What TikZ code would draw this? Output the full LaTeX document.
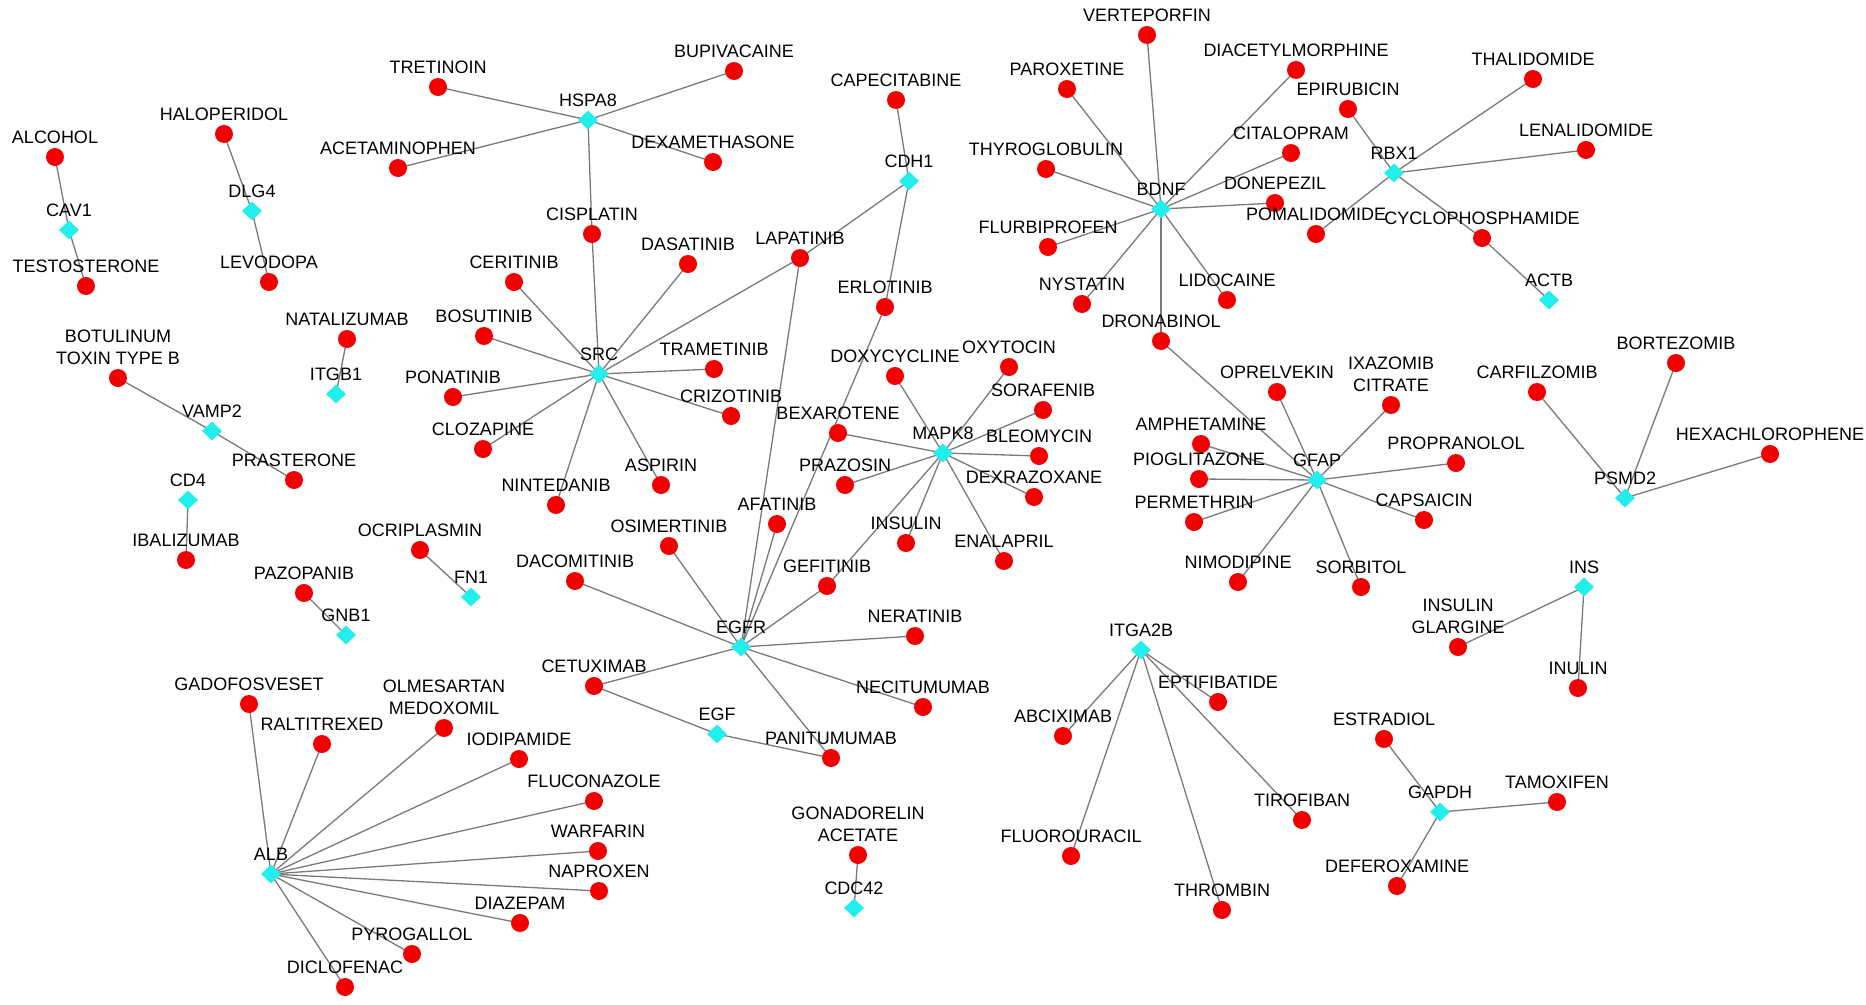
\documentclass[tikz,border=0pt]{standalone}
\usepackage{fontspec}
\setmainfont{Liberation Sans}
\usetikzlibrary{shapes.geometric,backgrounds}
\definecolor{dotred}{HTML}{F20000}
\definecolor{gcyan}{HTML}{22EEEE}
\definecolor{edgegray}{HTML}{7A7A7A}
\tikzset{
 drugdot/.style={circle,fill=dotred,draw=none,minimum size=18pt,inner sep=0pt},
 genedia/.style={diamond,fill=gcyan,draw=none,minimum width=20pt,minimum height=19pt,inner sep=0pt},
 lab/.style={anchor=south,inner sep=0pt,align=center,font=\fontsize{18}{22}\selectfont},
 edge/.style={draw=edgegray,line width=1.3pt}
}
\newcommand\Drug[4]{\node[drugdot] (#1) at (#2,#3) {}; \path (#1.center) ++(0,-13.5) node[lab] (#1-l) {#4};}
\newcommand\Gene[4]{\node[genedia] (#1) at (#2,#3) {}; \path (#1.center) ++(0,-13.5) node[lab] (#1-l) {#4};}
\begin{document}
\begin{tikzpicture}[x=1pt,y=-1pt]
\useasboundingbox (0,0) rectangle (1866,1004);
% genes
\Gene{CAV1}{69}{230}{CAV1}
\Gene{DLG4}{252}{211}{DLG4}
\Gene{HSPA8}{588}{120}{HSPA8}
\Gene{SRC}{599}{374}{SRC}
\Gene{ITGB1}{336}{394}{ITGB1}
\Gene{VAMP2}{212}{431}{VAMP2}
\Gene{CD4}{188}{500}{CD4}
\Gene{FN1}{471}{597}{FN1}
\Gene{GNB1}{346}{635}{GNB1}
\Gene{ALB}{271}{874}{ALB}
\Gene{CDH1}{909}{181}{CDH1}
\Gene{EGFR}{741}{647}{EGFR}
\Gene{EGF}{717}{734}{EGF}
\Gene{MAPK8}{943}{453}{MAPK8}
\Gene{CDC42}{854}{908}{CDC42}
\Gene{BDNF}{1161}{209}{BDNF}
\Gene{RBX1}{1394}{173}{RBX1}
\Gene{ACTB}{1549}{300}{ACTB}
\Gene{GFAP}{1317}{480}{GFAP}
\Gene{PSMD2}{1625}{498}{PSMD2}
\Gene{INS}{1584}{587}{INS}
\Gene{ITGA2B}{1141}{650}{ITGA2B}
\Gene{GAPDH}{1440}{812}{GAPDH}
% drugs
\Drug{alcohol}{55}{157}{ALCOHOL}
\Drug{testosterone}{86}{286}{TESTOSTERONE}
\Drug{haloperidol}{224}{134}{HALOPERIDOL}
\Drug{levodopa}{269}{282}{LEVODOPA}
\Drug{tretinoin}{438}{87}{TRETINOIN}
\Drug{acetaminophen}{398}{168}{ACETAMINOPHEN}
\Drug{bupivacaine}{734}{71}{BUPIVACAINE}
\Drug{dexamethasone}{713}{162}{DEXAMETHASONE}
\Drug{cisplatin}{592}{234}{CISPLATIN}
\Drug{ceritinib}{514}{282}{CERITINIB}
\Drug{bosutinib}{484}{336}{BOSUTINIB}
\Drug{ponatinib}{453}{397}{PONATINIB}
\Drug{clozapine}{483}{449}{CLOZAPINE}
\Drug{nintedanib}{556}{505}{NINTEDANIB}
\Drug{aspirin}{661}{485}{ASPIRIN}
\Drug{crizotinib}{731}{416}{CRIZOTINIB}
\Drug{trametinib}{714}{369}{TRAMETINIB}
\Drug{dasatinib}{688}{264}{DASATINIB}
\Drug{lapatinib}{800}{258}{LAPATINIB}
\Drug{natalizumab}{347}{339}{NATALIZUMAB}
\Drug{botulinum}{118}{378}{BOTULINUM\\TOXIN TYPE B}
\Drug{prasterone}{294}{480}{PRASTERONE}
\Drug{ibalizumab}{186}{560}{IBALIZUMAB}
\Drug{ocriplasmin}{420}{550}{OCRIPLASMIN}
\Drug{pazopanib}{304}{593}{PAZOPANIB}
\Drug{capecitabine}{896}{100}{CAPECITABINE}
\Drug{erlotinib}{885}{307}{ERLOTINIB}
\Drug{bexarotene}{838}{433}{BEXAROTENE}
\Drug{doxycycline}{895}{376}{DOXYCYCLINE}
\Drug{oxytocin}{1009}{367}{OXYTOCIN}
\Drug{sorafenib}{1043}{410}{SORAFENIB}
\Drug{bleomycin}{1039}{456}{BLEOMYCIN}
\Drug{prazosin}{845}{485}{PRAZOSIN}
\Drug{dexrazoxane}{1034}{497}{DEXRAZOXANE}
\Drug{insulin}{906}{543}{INSULIN}
\Drug{enalapril}{1004}{561}{ENALAPRIL}
\Drug{afatinib}{777}{524}{AFATINIB}
\Drug{osimertinib}{669}{546}{OSIMERTINIB}
\Drug{gefitinib}{827}{586}{GEFITINIB}
\Drug{dacomitinib}{575}{581}{DACOMITINIB}
\Drug{neratinib}{915}{636}{NERATINIB}
\Drug{cetuximab}{594}{686}{CETUXIMAB}
\Drug{necitumumab}{923}{707}{NECITUMUMAB}
\Drug{panitumumab}{831}{758}{PANITUMUMAB}
\Drug{gonadorelin}{858}{855}{GONADORELIN\\ACETATE}
\Drug{verteporfin}{1147}{35}{VERTEPORFIN}
\Drug{paroxetine}{1067}{89}{PAROXETINE}
\Drug{diacetylmorphine}{1296}{70}{DIACETYLMORPHINE}
\Drug{citalopram}{1291}{153}{CITALOPRAM}
\Drug{donepezil}{1275}{203}{DONEPEZIL}
\Drug{thyroglobulin}{1046}{169}{THYROGLOBULIN}
\Drug{flurbiprofen}{1048}{247}{FLURBIPROFEN}
\Drug{nystatin}{1082}{304}{NYSTATIN}
\Drug{lidocaine}{1227}{300}{LIDOCAINE}
\Drug{dronabinol}{1161}{341}{DRONABINOL}
\Drug{epirubicin}{1348}{109}{EPIRUBICIN}
\Drug{thalidomide}{1533}{79}{THALIDOMIDE}
\Drug{lenalidomide}{1586}{150}{LENALIDOMIDE}
\Drug{pomalidomide}{1316}{234}{POMALIDOMIDE}
\Drug{cyclophosphamide}{1482}{238}{CYCLOPHOSPHAMIDE}
\Drug{oprelvekin}{1277}{392}{OPRELVEKIN}
\Drug{ixazomib}{1391}{405}{IXAZOMIB\\CITRATE}
\Drug{amphetamine}{1201}{444}{AMPHETAMINE}
\Drug{pioglitazone}{1199}{479}{PIOGLITAZONE}
\Drug{permethrin}{1194}{522}{PERMETHRIN}
\Drug{propranolol}{1456}{463}{PROPRANOLOL}
\Drug{capsaicin}{1424}{520}{CAPSAICIN}
\Drug{nimodipine}{1238}{582}{NIMODIPINE}
\Drug{sorbitol}{1361}{587}{SORBITOL}
\Drug{carfilzomib}{1537}{392}{CARFILZOMIB}
\Drug{bortezomib}{1676}{363}{BORTEZOMIB}
\Drug{hexachlorophene}{1770}{454}{HEXACHLOROPHENE}
\Drug{glargine}{1458}{647}{INSULIN\\GLARGINE}
\Drug{inulin}{1578}{688}{INULIN}
\Drug{estradiol}{1384}{739}{ESTRADIOL}
\Drug{tamoxifen}{1557}{802}{TAMOXIFEN}
\Drug{deferoxamine}{1397}{886}{DEFEROXAMINE}
\Drug{eptifibatide}{1218}{702}{EPTIFIBATIDE}
\Drug{abciximab}{1063}{736}{ABCIXIMAB}
\Drug{fluorouracil}{1071}{856}{FLUOROURACIL}
\Drug{tirofiban}{1302}{820}{TIROFIBAN}
\Drug{thrombin}{1222}{910}{THROMBIN}
\Drug{gadofosveset}{249}{704}{GADOFOSVESET}
\Drug{raltitrexed}{322}{744}{RALTITREXED}
\Drug{olmesartan}{444}{728}{OLMESARTAN\\MEDOXOMIL}
\Drug{iodipamide}{519}{759}{IODIPAMIDE}
\Drug{fluconazole}{594}{801}{FLUCONAZOLE}
\Drug{warfarin}{598}{851}{WARFARIN}
\Drug{naproxen}{599}{891}{NAPROXEN}
\Drug{diazepam}{520}{923}{DIAZEPAM}
\Drug{pyrogallol}{412}{954}{PYROGALLOL}
\Drug{diclofenac}{345}{987}{DICLOFENAC}
% edges
\begin{scope}[on background layer]
\fill[white] (0,0) rectangle (1866,1004);
\foreach \a/\b in {CAV1/alcohol,CAV1/testosterone,DLG4/haloperidol,DLG4/levodopa,
 HSPA8/tretinoin,HSPA8/acetaminophen,HSPA8/bupivacaine,HSPA8/dexamethasone,HSPA8/cisplatin,
 SRC/cisplatin,SRC/ceritinib,SRC/bosutinib,SRC/ponatinib,SRC/clozapine,SRC/nintedanib,SRC/aspirin,SRC/crizotinib,SRC/trametinib,SRC/dasatinib,SRC/lapatinib,
 ITGB1/natalizumab,VAMP2/botulinum,VAMP2/prasterone,CD4/ibalizumab,FN1/ocriplasmin,GNB1/pazopanib,
 CDH1/capecitabine,CDH1/lapatinib,CDH1/erlotinib,
 EGFR/lapatinib,EGFR/erlotinib,EGFR/afatinib,EGFR/osimertinib,EGFR/gefitinib,EGFR/dacomitinib,EGFR/neratinib,EGFR/cetuximab,EGFR/necitumumab,EGFR/panitumumab,
 EGF/cetuximab,EGF/panitumumab,
 MAPK8/doxycycline,MAPK8/oxytocin,MAPK8/sorafenib,MAPK8/bleomycin,MAPK8/dexrazoxane,MAPK8/enalapril,MAPK8/insulin,MAPK8/gefitinib,MAPK8/prazosin,MAPK8/bexarotene,
 CDC42/gonadorelin,
 BDNF/verteporfin,BDNF/paroxetine,BDNF/diacetylmorphine,BDNF/citalopram,BDNF/donepezil,BDNF/thyroglobulin,BDNF/flurbiprofen,BDNF/nystatin,BDNF/lidocaine,BDNF/dronabinol,
 RBX1/epirubicin,RBX1/thalidomide,RBX1/lenalidomide,RBX1/pomalidomide,RBX1/cyclophosphamide,ACTB/cyclophosphamide,
 GFAP/dronabinol,GFAP/oprelvekin,GFAP/ixazomib,GFAP/amphetamine,GFAP/pioglitazone,GFAP/permethrin,GFAP/propranolol,GFAP/capsaicin,GFAP/nimodipine,GFAP/sorbitol,
 PSMD2/carfilzomib,PSMD2/bortezomib,PSMD2/hexachlorophene,INS/glargine,INS/inulin,
 GAPDH/estradiol,GAPDH/tamoxifen,GAPDH/deferoxamine,
 ITGA2B/eptifibatide,ITGA2B/abciximab,ITGA2B/fluorouracil,ITGA2B/tirofiban,ITGA2B/thrombin,
 ALB/gadofosveset,ALB/raltitrexed,ALB/olmesartan,ALB/iodipamide,ALB/fluconazole,ALB/warfarin,ALB/naproxen,ALB/diazepam,ALB/pyrogallol,ALB/diclofenac}
 {\draw[edge] (\a.center) -- (\b.center);}
\end{scope}
\end{tikzpicture}
\end{document}
